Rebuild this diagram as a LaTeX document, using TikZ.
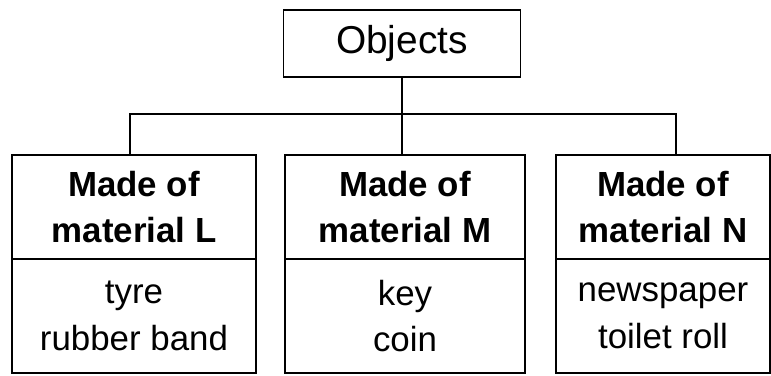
\documentclass[tikz,border=0pt]{standalone}
\usepackage{fontspec}
\setmainfont{Liberation Sans}
\begin{document}
\begin{tikzpicture}[x=1bp,y=1bp,line width=1.2pt]
\tikzstyle{box}=[draw,rectangle,inner sep=0pt,align=center]
\tikzstyle{head}=[box,minimum height=104bp,font=\fontsize{35}{47}\selectfont\bfseries]
\tikzstyle{body}=[box,minimum height=114bp,font=\fontsize{35}{47}\selectfont]
\useasboundingbox (0,0) rectangle (771,375);
\node[box,minimum width=237bp,minimum height=67bp,font=\fontsize{39}{46}\selectfont] (OBJ) at (402,331.5) {Objects};
\node[head,minimum width=244bp] (L) at (134,168) {Made of\\material L};
\node[head,minimum width=240bp] (M) at (405,168) {Made of\\material M};
\node[head,minimum width=214bp] (N) at (663,168) {Made of\\material N};
\node[body,minimum width=244bp] (L2) at (134,59) {tyre\\rubber band};
\node[body,minimum width=240bp] (M2) at (405,59) {key\\coin};
\node[body,minimum width=214bp] (N2) at (663,59) {newspaper\\toilet roll};
\coordinate (J) at (OBJ.south |- 0,261);
\coordinate (JL) at (130,261);
\coordinate (JN) at (676,261);
\draw (OBJ.south) -- (J) -- (J |- M.north);
\draw (JL |- L.north) -- (JL) -- (JN) -- (JN |- N.north);
\end{tikzpicture}
\end{document}
